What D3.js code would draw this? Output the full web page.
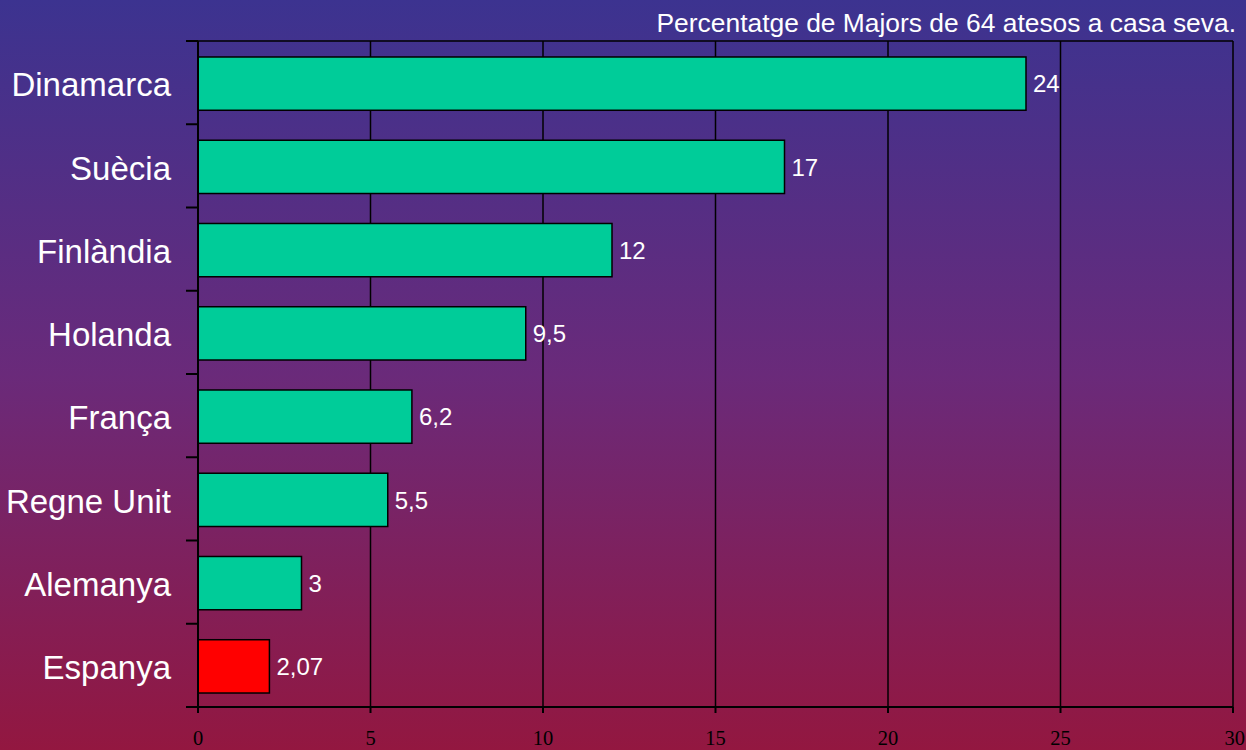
<!DOCTYPE html>
<html>
<head>
<meta charset="utf-8">
<script src="https://cdn.jsdelivr.net/npm/d3@7"></script>
<style>
  html, body { margin: 0; padding: 0; overflow: hidden; }
  body { width: 1246px; height: 750px; }
</style>
</head>
<body>
<div id="chart"></div>
<script>
// data
const countries = ["Dinamarca", "Suècia", "Finlàndia", "Holanda", "França", "Regne Unit", "Alemanya", "Espanya"];
const values = [24, 17, 12, 9.5, 6.2, 5.5, 3, 2.07];
const barColors = ["#00CC99", "#00CC99", "#00CC99", "#00CC99", "#00CC99", "#00CC99", "#00CC99", "#FF0000"];
const xTicks = [0, 5, 10, 15, 20, 25, 30];
const title = "Percentatge de Majors de 64 atesos a casa seva.";

const width = 1246;
const height = 750;
const margin = { top: 41, right: 13, bottom: 43, left: 198 };

const svg = d3.select("#chart")
    .append("svg")
    .attr("width", width)
    .attr("height", height);

// background gradient
const grad = svg.append("defs").append("linearGradient")
    .attr("id", "bg")
    .attr("x1", 0).attr("y1", 0)
    .attr("x2", 0).attr("y2", 1);
grad.append("stop").attr("offset", "0%").attr("stop-color", "#3C3390");
grad.append("stop").attr("offset", "50%").attr("stop-color", "#6A2A7A");
grad.append("stop").attr("offset", "100%").attr("stop-color", "#931740");

svg.append("rect")
    .attr("width", width)
    .attr("height", height)
    .attr("fill", "url(#bg)");

const x = d3.scaleLinear()
    .domain([0, 30])
    .range([margin.left, width - margin.right]);

const y = d3.scaleBand()
    .domain(countries)
    .range([margin.top, height - margin.bottom])
    .paddingInner(0.36)
    .paddingOuter(0.18);

const bottomY = height - margin.bottom;

// gridlines + frame
svg.append("g")
    .selectAll("line")
    .data(xTicks.filter(d => d > 0))
    .join("line")
    .attr("x1", d => x(d))
    .attr("x2", d => x(d))
    .attr("y1", margin.top)
    .attr("y2", bottomY)
    .attr("stroke", "#000")
    .attr("stroke-width", 1.5);

svg.append("line")
    .attr("x1", margin.left)
    .attr("x2", x(30))
    .attr("y1", margin.top)
    .attr("y2", margin.top)
    .attr("stroke", "#000")
    .attr("stroke-width", 1.5);

// bars
svg.append("g")
    .selectAll("rect")
    .data(countries)
    .join("rect")
    .attr("x", x(0))
    .attr("y", d => y(d) + 1)
    .attr("width", (d, i) => x(values[i]) - x(0))
    .attr("height", y.bandwidth())
    .attr("fill", (d, i) => barColors[i])
    .attr("stroke", "#000")
    .attr("stroke-width", 1.5);

// value labels
svg.append("g")
    .selectAll("text")
    .data(countries)
    .join("text")
    .attr("x", (d, i) => x(values[i]) + 7)
    .attr("y", d => y(d) + 1 + y.bandwidth() / 2)
    .attr("dy", "0.36em")
    .attr("fill", "#fff")
    .attr("font-family", "Liberation Sans, Arial, sans-serif")
    .attr("font-size", 24)
    .text((d, i) => String(values[i]).replace(".", ","));

// y axis: band boundary ticks
const bandStep = y.step();
const yBounds = d3.range(countries.length + 1).map(i => margin.top + i * bandStep);

const yAxis = svg.append("g");
yAxis.append("line")
    .attr("x1", margin.left).attr("x2", margin.left)
    .attr("y1", margin.top).attr("y2", bottomY)
    .attr("stroke", "#000").attr("stroke-width", 2);
yAxis.selectAll(".tick")
    .data(yBounds)
    .join("line")
    .attr("class", "tick")
    .attr("x1", margin.left - 12).attr("x2", margin.left)
    .attr("y1", d => d).attr("y2", d => d)
    .attr("stroke", "#000").attr("stroke-width", 2);
yAxis.selectAll("text")
    .data(countries)
    .join("text")
    .attr("x", margin.left - 27)
    .attr("y", d => y(d) + y.bandwidth() / 2)
    .attr("dy", "0.42em")
    .attr("text-anchor", "end")
    .attr("fill", "#fff")
    .attr("font-family", "Liberation Sans, Arial, sans-serif")
    .attr("font-size", 33)
    .text(d => d);

// x axis
const xAxis = svg.append("g");
xAxis.append("line")
    .attr("x1", margin.left - 12).attr("x2", x(30))
    .attr("y1", bottomY).attr("y2", bottomY)
    .attr("stroke", "#000").attr("stroke-width", 2);
xAxis.selectAll(".tick")
    .data(xTicks)
    .join("line")
    .attr("class", "tick")
    .attr("x1", d => x(d)).attr("x2", d => x(d))
    .attr("y1", bottomY).attr("y2", bottomY + 6)
    .attr("stroke", "#000").attr("stroke-width", 2);
xAxis.selectAll("text")
    .data(xTicks)
    .join("text")
    .attr("x", d => x(d))
    .attr("y", 745)
    .attr("text-anchor", (d, i) => i === xTicks.length - 1 ? "end" : "middle")
    .attr("dx", (d, i) => i === xTicks.length - 1 ? 12 : 0)
    .attr("fill", "#000")
    .attr("font-family", "Liberation Serif, Times New Roman, serif")
    .attr("font-size", 20.5)
    .text(d => d);

// title
svg.append("text")
    .attr("x", 1236)
    .attr("y", 32)
    .attr("text-anchor", "end")
    .attr("fill", "#fff")
    .attr("font-family", "Liberation Sans, Arial, sans-serif")
    .attr("font-size", 26.4)
    .text(title);
</script>
</body>
</html>
